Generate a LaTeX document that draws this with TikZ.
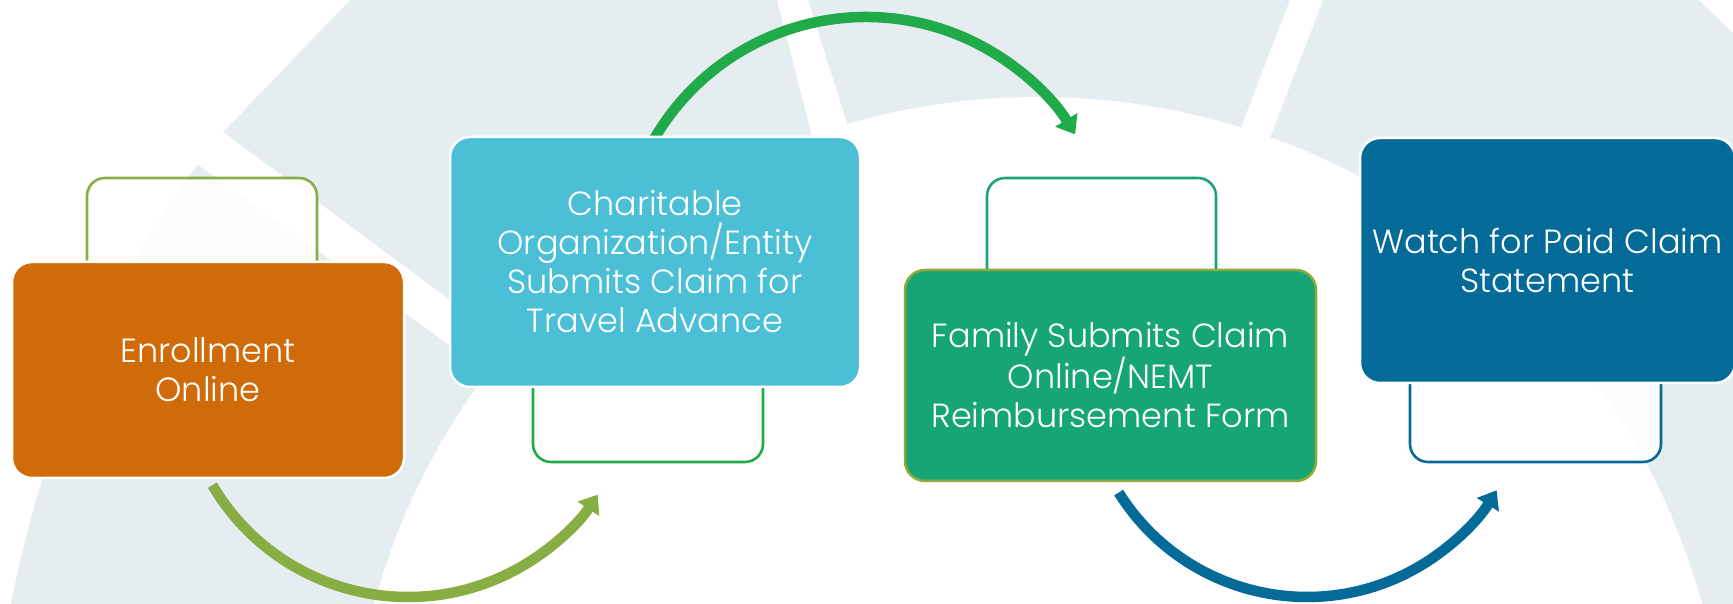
\documentclass[tikz,border=0pt]{standalone}
\usepackage{fontspec}
\IfFontExistsTF{Poppins Light}{\setmainfont{Poppins Light}}{\setmainfont{Poppins}}
\usetikzlibrary{arrows.meta}
\definecolor{bggray}{HTML}{E5EDF1}
\definecolor{corange}{HTML}{D06B09}
\definecolor{ccyan}{HTML}{4BBFD6}
\definecolor{cgreen}{HTML}{16A673}
\definecolor{cblue}{HTML}{046B99}
\definecolor{colive}{HTML}{88AE43}
\definecolor{cgreenB}{HTML}{20AA4A}
\definecolor{cteal}{HTML}{1CA37A}
\definecolor{cborder}{HTML}{8FA93B}
\tikzset{
  mainbox/.style={rounded corners=20pt, minimum width=#1, inner sep=0pt, align=center,
    text=white, font=\fontsize{33.5}{39}\selectfont, draw=white, line width=2.5pt},
  outbox/.style={rounded corners=18pt, line width=2.6pt, fill=white, fill opacity=0.85},
  flow/.style={line width=10.5pt, -{Triangle[length=17pt,width=25pt]}}
}
\begin{document}
\begin{tikzpicture}[x=1pt,y=1pt]
\useasboundingbox (0,0) rectangle (1733,604);
% background
\fill[bggray] (0,0) rectangle (1733,604);
\fill[white] (0,604) -- (350,604) -- (223,472) -- (750,82) -- (750,0) -- (0,0) -- cycle;
\fill[bggray] (198,439) -- (750,43) -- (750,0) -- (11,0) .. controls (45,174) and (120,344) .. (198,439) -- cycle;
\fill[white] (777,604) -- (808,604) -- (868,414) -- (826,414) -- cycle;
\fill[white] (1290,604) -- (1323,604) -- (1246,404) -- (1213,404) -- cycle;
\fill[white] (1699,604) -- (1733,604) -- (1733,571) -- cycle;
\fill[white] (1038,-181) circle[radius=688];
% outline boxes
\draw[outbox, draw=colive] (87,250) rectangle (317,426);
\draw[outbox, draw=cgreenB] (533,142) rectangle (763,300);
\draw[outbox, draw=cteal] (987,250) rectangle (1216,426);
\draw[outbox, draw=cblue] (1410,142) rectangle (1661,300);
% arrows
\coordinate (a1s) at (212.4,118.8);
\coordinate (a2s) at (649.7,457);
\coordinate (a3s) at (1118.7,111.4);
\draw[flow, colive] (a1s) arc[start angle=210.5, end angle=326.7, radius=227];
\draw[flow, cgreenB] (a2s) arc[start angle=152, end angle=31.4, radius=245];
\draw[flow, cblue] (a3s) arc[start angle=212, end angle=328.7, radius=222];
% main boxes
\node[mainbox=392pt, minimum height=216pt, fill=corange] (b1) at (208,234) {Enrollment\\Online};
\node[mainbox=410pt, minimum height=250pt, fill=ccyan] (b2) at (655,342) {Charitable\\Organization/Entity\\Submits Claim for\\Travel Advance};
\node[mainbox=411pt, minimum height=211pt, fill=cgreen, draw=cborder] (b3) at (1110.5,228.5) {Family Submits Claim\\Online/NEMT\\Reimbursement Form};
\node[mainbox=375pt, minimum height=245pt, fill=cblue] (b4) at (1547.5,343.5) {Watch for Paid Claim\\Statement};
\end{tikzpicture}
\end{document}
